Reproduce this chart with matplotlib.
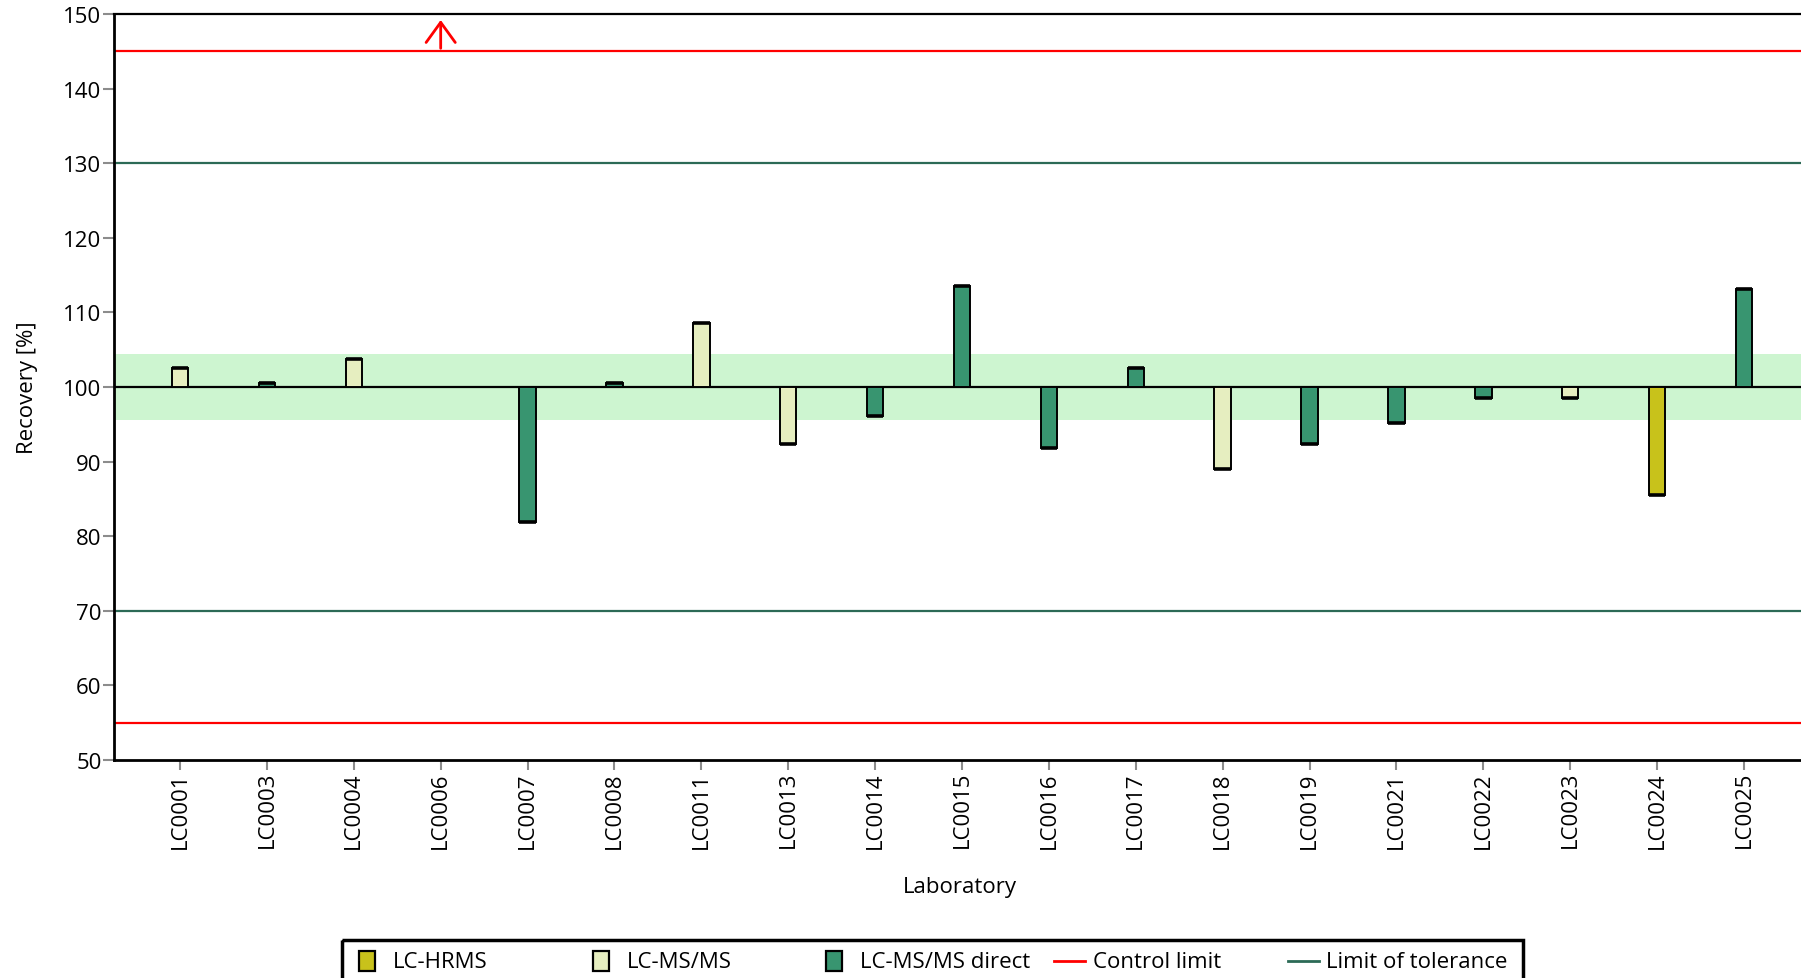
"""
Recovery per laboratory, bars around 100 % with control / tolerance limits.
"""
import matplotlib
matplotlib.use("Agg")
import matplotlib.pyplot as plt
from matplotlib.patches import Rectangle
from matplotlib.lines import Line2D

plt.rcParams["font.family"] = ["Open Sans", "DejaVu Sans"]

# ---------- data ----------
labs = ["LC0001", "LC0003", "LC0004", "LC0006", "LC0007", "LC0008", "LC0011",
        "LC0013", "LC0014", "LC0015", "LC0016", "LC0017", "LC0018", "LC0019",
        "LC0021", "LC0022", "LC0023", "LC0024", "LC0025"]
recovery = [102.5, 100.5, 103.7, None, 81.9, 100.5, 108.6,
            92.3, 96.1, 113.6, 91.8, 102.5, 89.0, 92.3,
            95.2, 98.5, 98.5, 85.5, 113.1]
method = ["LC-MS/MS", "LC-MS/MS direct", "LC-MS/MS", None, "LC-MS/MS direct",
          "LC-MS/MS direct", "LC-MS/MS", "LC-MS/MS", "LC-MS/MS direct",
          "LC-MS/MS direct", "LC-MS/MS direct", "LC-MS/MS direct", "LC-MS/MS",
          "LC-MS/MS direct", "LC-MS/MS direct", "LC-MS/MS direct", "LC-MS/MS",
          "LC-HRMS", "LC-MS/MS direct"]
off_scale = ["LC0006"]          # value above the plotted range -> arrow

target = 100
band = (95.6, 104.4)
control_limits = (55, 145)
tolerance_limits = (70, 130)

method_colors = {"LC-HRMS": "#c8c21b", "LC-MS/MS": "#e6eec0",
                 "LC-MS/MS direct": "#389570"}
RED = "#ff0000"
TOL = "#2c6a56"
BAND = "#cdf5d0"
FS = 16

# ---------- figure ----------
W, H = 1801, 979
fig = plt.figure(figsize=(W / 100, H / 100), dpi=100)
ax = fig.add_axes([114 / W, 1 - 761 / H, 1696 / W, 746 / H])

ax.axhspan(*band, color=BAND, lw=0, zorder=0)
for v in control_limits:
    ax.axhline(v, color=RED, lw=1.6, zorder=1)
for v in tolerance_limits:
    ax.axhline(v, color=TOL, lw=1.6, zorder=1)
ax.axhline(target, color="black", lw=1.6, zorder=2)

bw = 0.19
for i, (val, m) in enumerate(zip(recovery, method)):
    if val is None:
        continue
    ax.bar(i, val - target, bottom=target, width=bw, color=method_colors[m],
           edgecolor="black", lw=1.4, zorder=3)
    ax.hlines(val, i - bw / 2, i + bw / 2, color="black", lw=2.6, zorder=4)

for lab in off_scale:
    i = labs.index(lab)
    ax.annotate("", xy=(i, 149.2), xytext=(i, 145.4),
                arrowprops=dict(arrowstyle="->,head_length=1.45,head_width=1.05",
                                color=RED, lw=2, shrinkA=0, shrinkB=0),
                zorder=5)

ax.set_xlim(-0.76, len(labs) - 1 + 0.76)
ax.set_ylim(50, 150)
ax.set_yticks(range(50, 151, 10))
ax.set_xticks(range(len(labs)))
ax.set_xticklabels(labs, rotation=90)
ax.tick_params(axis="both", direction="out", length=8, width=1.5,
               color="#8c8c8c", labelsize=FS)
ax.tick_params(axis="y", pad=1)
ax.tick_params(axis="x", length=7, pad=1)

for s in ("left", "bottom"):
    ax.spines[s].set_linewidth(2)
ax.spines["top"].set_linewidth(1.6)
ax.spines["right"].set_visible(False)

fig.text(960 / W, 1 - 888 / H, "Laboratory", ha="center", va="center",
         fontsize=FS)
fig.text(27 / W, 1 - 388 / H, "Recovery [%]", ha="center", va="center",
         rotation=90, fontsize=FS)

# ---------- legend (equal column pitch, bottom clipped by the figure) ----------
lax = fig.add_axes([342 / W, 1 - 995 / H, (1523 - 342) / W, (995 - 941) / H])
lax.set_xlim(342, 1523)
lax.set_ylim(995, 941)
lax.axis("off")
lax.add_patch(Rectangle((342, 941), 1523 - 342, 54, fill=False,
                        edgecolor="black", lw=2.5, clip_on=False))
entries = [("patch", method_colors["LC-HRMS"], "LC-HRMS"),
           ("patch", method_colors["LC-MS/MS"], "LC-MS/MS"),
           ("patch", method_colors["LC-MS/MS direct"], "LC-MS/MS direct"),
           ("line", RED, "Control limit"),
           ("line", TOL, "Limit of tolerance")]
x0, pitch, yc = 359, 233.5, 962
for k, (kind, col, text) in enumerate(entries):
    x = x0 + k * pitch
    if kind == "patch":
        lax.add_patch(Rectangle((x, yc - 10), 16, 20, facecolor=col,
                                edgecolor="black", lw=1.6))
        tx = x + 34
    else:
        x -= 5.5
        lax.add_line(Line2D([x, x + 31], [yc, yc], color=col, lw=2))
        tx = x + 39
    lax.text(tx, yc, text, va="center", ha="left", fontsize=FS)

fig.savefig("out.png", dpi=100)
